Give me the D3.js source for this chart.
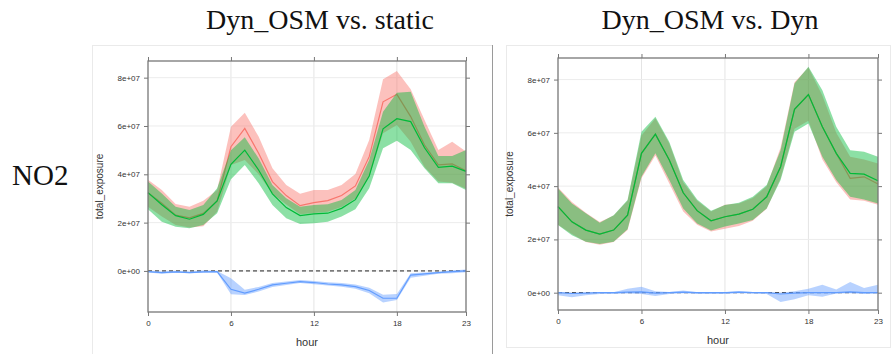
<!DOCTYPE html>
<html>
<head>
<meta charset="utf-8">
<script src="https://cdn.jsdelivr.net/npm/d3@7"></script>
<style>
  body { margin: 0; background: #fff; }
  svg { display: block; }
</style>
</head>
<body>
<svg width="894" height="354"></svg>
<script>
// hours 0..23
const hours = d3.range(24);
const xTicks = [0, 6, 12, 18, 23];
const yTicks = [0, 2e7, 4e7, 6e7, 8e7];
const yTickLabels = ["0e+00", "2e+07", "4e+07", "6e+07", "8e+07"];

// values in units of 1e7
// --- left panel: Dyn_OSM vs. static
const staticMean  = [3.24,2.80,2.31,2.20,2.38,2.90,5.14,5.90,4.87,3.70,3.12,2.70,2.83,2.91,3.12,3.52,4.73,7.00,7.31,6.39,5.21,4.39,4.43,4.15];
const staticHi    = [3.77,3.35,2.77,2.66,2.91,3.35,5.97,6.55,5.56,4.25,3.56,3.19,3.35,3.35,3.56,4.01,5.42,7.93,8.28,7.52,6.25,5.01,5.35,4.94];
const staticLo    = [2.66,2.25,1.90,1.80,1.85,2.45,4.39,4.59,4.00,3.20,2.75,2.35,2.40,2.45,2.65,3.00,3.90,5.70,6.04,5.35,4.30,3.70,3.65,3.40];
const osmMeanL    = [3.24,2.74,2.29,2.14,2.34,2.90,4.41,5.00,4.18,3.19,2.62,2.29,2.36,2.39,2.59,2.95,3.93,5.88,6.30,6.18,5.10,4.29,4.34,4.12];
const osmHiL      = [3.70,3.21,2.66,2.52,2.73,3.42,5.00,5.53,4.66,3.56,3.01,2.66,2.73,2.76,2.94,3.35,4.59,6.59,7.38,7.42,5.97,4.76,4.76,5.01];
const osmLoL      = [2.55,2.04,1.83,1.77,1.90,2.39,3.80,4.39,3.63,2.73,2.18,1.94,1.97,2.04,2.25,2.55,3.42,5.08,5.39,5.01,4.25,3.63,3.63,3.35];
const diffMeanL   = [-0.03,-0.07,-0.04,-0.07,-0.04,-0.03,-0.76,-0.92,-0.76,-0.58,-0.51,-0.44,-0.48,-0.54,-0.58,-0.65,-0.81,-1.13,-1.13,-0.17,-0.12,-0.07,-0.03,0.00];
const diffHiL     = [0.00,-0.02,0.00,-0.02,0.02,0.00,-0.30,-0.78,-0.66,-0.50,-0.44,-0.38,-0.42,-0.47,-0.50,-0.56,-0.70,-0.99,-0.95,-0.10,-0.06,-0.03,0.02,0.06];
const diffLoL     = [-0.07,-0.12,-0.08,-0.10,-0.08,-0.06,-0.97,-1.00,-0.85,-0.66,-0.58,-0.50,-0.55,-0.60,-0.65,-0.74,-0.92,-1.31,-1.20,-0.28,-0.20,-0.12,-0.10,-0.05];

// --- right panel: Dyn_OSM vs. Dyn
const dynMean     = [3.23,2.66,2.35,2.20,2.35,2.91,5.23,5.95,4.98,3.75,3.08,2.70,2.85,2.95,3.13,3.60,4.73,6.88,7.44,6.23,5.23,4.29,4.35,4.08];
const dynHi       = [3.95,3.40,3.00,2.65,2.90,3.45,5.90,6.55,5.60,4.15,3.45,3.05,3.30,3.35,3.55,4.00,5.45,7.90,8.45,7.40,6.00,5.10,5.00,4.85];
const dynLo       = [2.55,2.20,1.90,1.80,1.90,2.35,4.30,5.15,4.10,3.05,2.55,2.30,2.40,2.50,2.70,3.15,4.30,6.15,6.45,5.00,4.15,3.50,3.45,3.30];
const osmMeanR    = [3.23,2.66,2.35,2.20,2.35,2.91,5.23,5.95,4.98,3.75,3.08,2.70,2.85,2.95,3.13,3.60,4.73,6.88,7.44,6.23,5.23,4.48,4.45,4.20];
const osmHiR      = [3.91,3.35,2.98,2.63,2.91,3.48,6.04,6.60,5.66,4.23,3.50,3.08,3.29,3.38,3.60,4.04,5.35,7.85,8.48,7.60,6.23,5.35,5.29,5.10];
const osmLoR      = [2.54,2.16,1.91,1.83,1.91,2.38,4.35,5.23,4.23,3.16,2.60,2.33,2.48,2.60,2.73,3.16,4.23,6.04,6.35,5.10,4.23,3.60,3.50,3.35];
const diffMeanR   = [0.00,-0.03,-0.02,0.00,0.00,0.02,0.03,-0.02,0.00,0.02,0.00,0.00,0.00,0.02,0.00,0.00,-0.05,-0.02,0.00,0.00,0.00,0.03,0.00,0.00];
const diffHiR     = [0.02,0.00,0.00,0.02,0.02,0.15,0.22,0.05,0.03,0.08,0.02,0.02,0.02,0.06,0.03,0.02,0.00,0.05,0.15,0.30,0.12,0.40,0.18,0.30];
const diffLoR     = [-0.10,-0.17,-0.10,-0.05,-0.05,-0.03,-0.05,-0.12,-0.05,-0.02,-0.05,-0.05,-0.05,-0.02,-0.03,-0.05,-0.35,-0.25,-0.10,-0.15,-0.03,-0.02,-0.05,-0.02];

const RED = "#f8766d", GREEN = "#00ba38", BLUE = "#619cff";
const svg = d3.select("svg");

function series(mean, hi, lo) {
  return hours.map((h, i) => ({h: h, m: mean[i] * 1e7, hi: hi[i] * 1e7, lo: lo[i] * 1e7}));
}

function drawPanel(p) {
  const x = d3.scaleLinear().domain([0, 23]).range([p.left, p.right]);
  const y = d3.scaleLinear().domain(p.yDomain).range([p.bottom, p.top]);
  const g = svg.append("g");

  // grid
  g.selectAll(".vg").data(xTicks.slice(1, -1)).join("line")
    .attr("x1", d => x(d)).attr("x2", d => x(d))
    .attr("y1", p.top).attr("y2", p.bottom)
    .attr("stroke", "#e4e4e4").attr("stroke-width", 1);
  g.selectAll(".hg").data(yTicks).join("line")
    .attr("x1", p.left).attr("x2", p.right)
    .attr("y1", d => y(d)).attr("y2", d => y(d))
    .attr("stroke", "#ececec").attr("stroke-width", 1);

  const area = d3.area().x(d => x(d.h)).y0(d => y(d.lo)).y1(d => y(d.hi));
  const line = d3.line().x(d => x(d.h)).y(d => y(d.m));

  // zero line
  g.append("line")
    .attr("x1", p.left).attr("x2", p.right)
    .attr("y1", y(0)).attr("y2", y(0))
    .attr("stroke", "#222").attr("stroke-width", 1).attr("stroke-dasharray", "4,3");

  p.series.forEach(s => {
    g.append("path").datum(s.data).attr("d", area)
      .attr("fill", s.color).attr("fill-opacity", 0.45);
    g.append("path").datum(s.data).attr("d", line)
      .attr("fill", "none").attr("stroke", s.color).attr("stroke-width", 1.2);
  });

  // frame
  g.append("rect")
    .attr("x", p.left).attr("y", p.top)
    .attr("width", p.right - p.left).attr("height", p.bottom - p.top)
    .attr("fill", "none").attr("stroke", "#777").attr("stroke-width", 1.3);

  // axes
  g.append("g").attr("transform", `translate(0,${p.bottom})`)
    .call(d3.axisBottom(x).tickValues(xTicks).tickSize(4).tickPadding(4));
  g.append("g").attr("transform", `translate(0,${p.top})`)
    .call(d3.axisTop(x).tickValues(xTicks).tickSize(4).tickFormat(""));
  g.append("g").attr("transform", `translate(${p.left},0)`)
    .call(d3.axisLeft(y).tickValues(yTicks).tickSize(4).tickPadding(4)
      .tickFormat((d, i) => yTickLabels[i]));
  g.append("g").attr("transform", `translate(${p.right},0)`)
    .call(d3.axisRight(y).tickValues(yTicks).tickSize(4).tickFormat(""));

  g.selectAll(".domain").remove();
  g.selectAll(".tick line").attr("stroke", "#777");
  g.selectAll(".tick text").attr("fill", "#333")
    .style("font-family", "Liberation Sans, Arial, sans-serif").style("font-size", "8px");

  g.append("text")
    .attr("transform", `translate(${p.left - 45},${(p.top + p.bottom) / 2}) rotate(-90)`)
    .attr("text-anchor", "middle")
    .style("font-family", "Liberation Sans, Arial, sans-serif").style("font-size", "10px")
    .attr("fill", "#333").text("total_exposure");
  g.append("text")
    .attr("x", (p.left + p.right) / 2).attr("y", p.bottom + 34)
    .attr("text-anchor", "middle")
    .style("font-family", "Liberation Sans, Arial, sans-serif").style("font-size", "11px")
    .attr("fill", "#333").text("hour");

  g.append("text")
    .attr("x", p.titleX).attr("y", 29)
    .attr("text-anchor", "middle")
    .style("font-family", "Liberation Serif, serif").style("font-size", "28px")
    .attr("fill", "#111").text(p.title);
}

// light outer frames of the two images
svg.append("rect").attr("x", 92.5).attr("y", 45.5).attr("width", 400).attr("height", 320)
  .attr("fill", "none").attr("stroke", "#eaeaea");
svg.append("line").attr("x1", 492.5).attr("x2", 492.5).attr("y1", 45).attr("y2", 354)
  .attr("stroke", "#9a9a9a");
svg.append("rect").attr("x", 506.5).attr("y", 45.5).attr("width", 384).attr("height", 302)
  .attr("fill", "none").attr("stroke", "#eaeaea");

drawPanel({
  left: 148, right: 466, top: 61, bottom: 312,
  yDomain: [-1.7e7, 8.69e7],
  title: "Dyn_OSM vs. static", titleX: 320,
  series: [
    {color: RED, data: series(staticMean, staticHi, staticLo)},
    {color: GREEN, data: series(osmMeanL, osmHiL, osmLoL)},
    {color: BLUE, data: series(diffMeanL, diffHiL, diffLoL)}
  ]
});

drawPanel({
  left: 558, right: 878, top: 58, bottom: 310,
  yDomain: [-0.65e7, 8.81e7],
  title: "Dyn_OSM vs. Dyn", titleX: 710,
  series: [
    {color: RED, data: series(dynMean, dynHi, dynLo)},
    {color: GREEN, data: series(osmMeanR, osmHiR, osmLoR)},
    {color: BLUE, data: series(diffMeanR, diffHiR, diffLoR)}
  ]
});

svg.append("text")
  .attr("x", 12).attr("y", 185)
  .style("font-family", "Liberation Serif, serif").style("font-size", "29px")
  .attr("fill", "#111").text("NO2");
</script>
</body>
</html>
